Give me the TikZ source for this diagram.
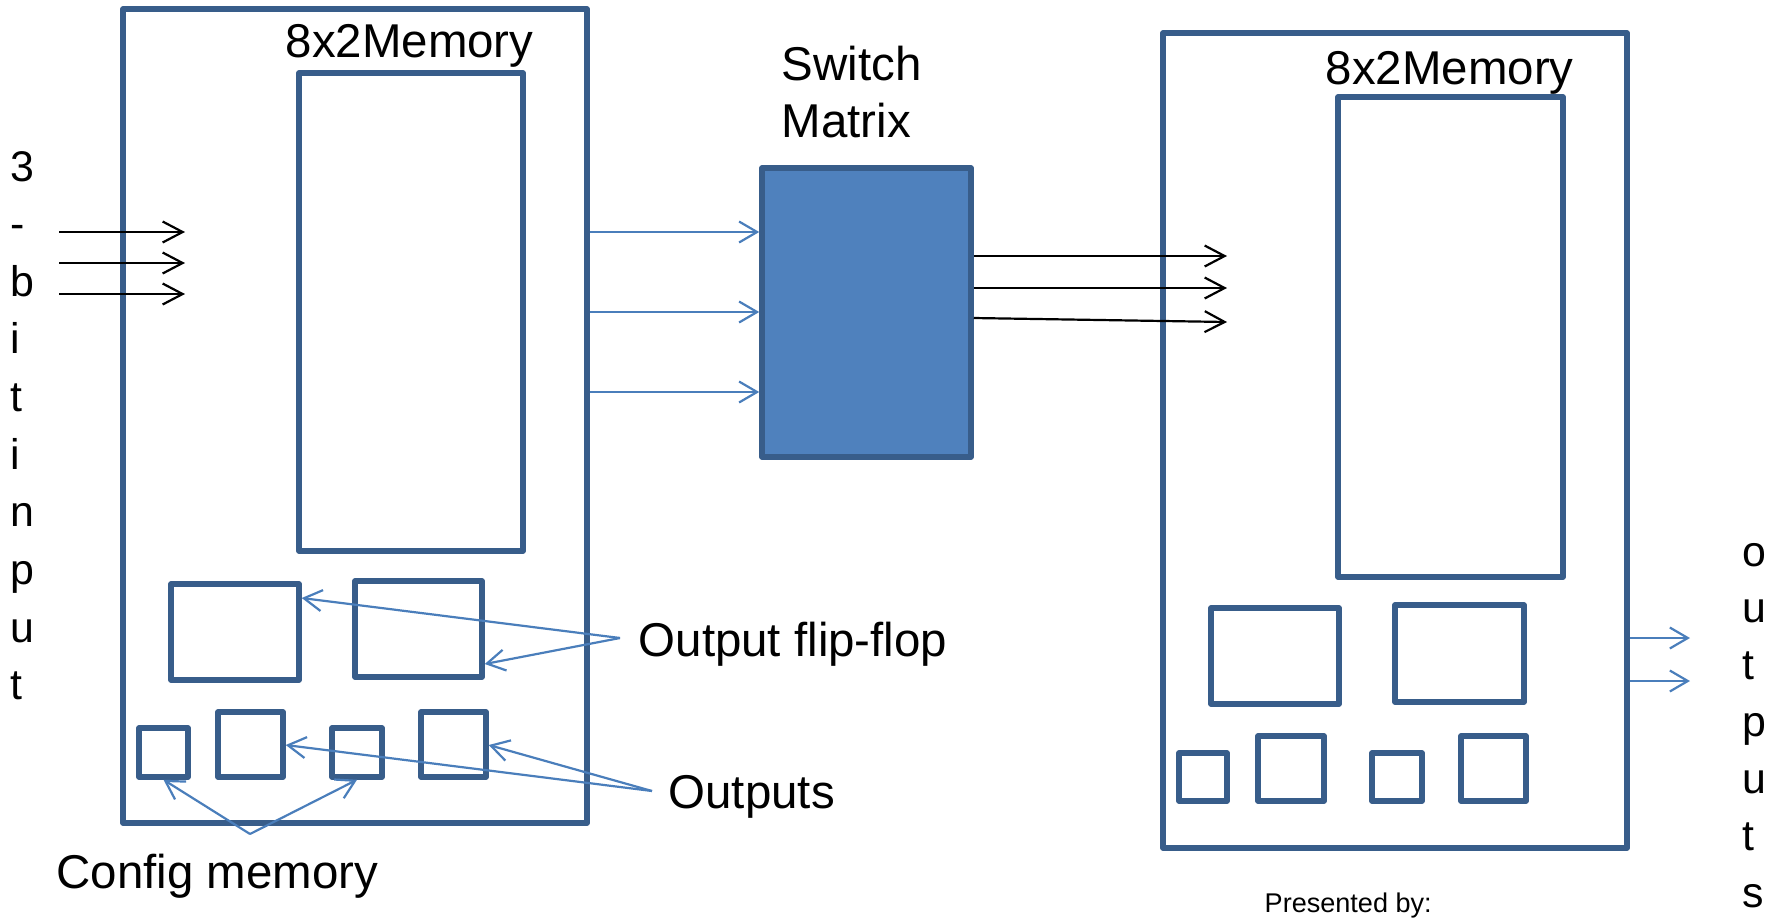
\documentclass[tikz,border=0pt]{standalone}
\usepackage{fontspec}
\setmainfont{Liberation Sans}
\usetikzlibrary{arrows.meta,fit}
\definecolor{boxline}{HTML}{385D8A}
\definecolor{boxfill}{HTML}{4F81BD}
\definecolor{wireblue}{HTML}{4A7EBB}
\tikzset{
  blk/.style={draw=boxline, line width=0.55mm, inner sep=0pt, rectangle, line join=round},
  bluewire/.style={draw=wireblue, line width=0.22mm,
    -{Straight Barb[length=1.8mm,width=2.1mm,line width=0.22mm]}},
  blackwire/.style={draw=black, line width=0.22mm,
    -{Straight Barb[length=2mm,width=2.1mm,line width=0.22mm]}},
  lbl/.style={anchor=base west, inner sep=0pt, font=\fontsize{13.5}{16.3}\selectfont},
  smalllbl/.style={anchor=base west, inner sep=0pt, font=\fontsize{7.7}{9}\selectfont},
  vlbl/.style={anchor=base west, inner sep=0pt, font=\fontsize{12.2}{16.4}\selectfont},
}
\begin{document}
\begin{tikzpicture}[x=0.1mm, y=-0.1mm]
\useasboundingbox (0,0) rectangle (1784,919);

% ---- left logic block ----
\node[blk, fit={(123,9) (587,823)}] (lbox) {};
\node[blk, fit={(299,73) (523,551)}] (lmem) {};
\node[blk, fit={(171,584) (299,680)}] (lff1) {};
\node[blk, fit={(355,581) (482,677)}] (lff2) {};
\node[blk, fit={(139,728) (188,777)}] (lc1) {};
\node[blk, fit={(218,712) (283,777)}] (lo2) {};
\node[blk, fit={(332,728) (382,777)}] (lc3) {};
\node[blk, fit={(421,712) (486,777)}] (lo4) {};
\node[lbl] (lmemlbl) at (285,57) {8x2Memory};

% ---- switch matrix ----
\node[blk, fill=boxfill, fit={(762,168) (971,457)}] (sw) {};
\node[lbl] (swlbl) at (781,80) {\vtop{\hbox{Switch}\hbox{Matrix}}};

% ---- right logic block ----
\node[blk, fit={(1163,33) (1627,848)}] (rbox) {};
\node[blk, fit={(1338,97) (1563,577)}] (rmem) {};
\node[blk, fit={(1211,608) (1339,704)}] (rff1) {};
\node[blk, fit={(1395,605) (1524,702)}] (rff2) {};
\node[blk, fit={(1179,753) (1227,801)}] (rc1) {};
\node[blk, fit={(1258,736) (1324,801)}] (ro2) {};
\node[blk, fit={(1372,753) (1422,801)}] (rc3) {};
\node[blk, fit={(1461,736) (1526,801)}] (ro4) {};
\node[lbl] (rmemlbl) at (1325,84) {8x2Memory};

% ---- inputs ----
\node[vlbl] (inlbl) at (10,181) {\vtop{\hbox{3}\hbox{-}\hbox{b}\hbox{i}\hbox{t}\hbox{i}\hbox{n}\hbox{p}\hbox{u}\hbox{t}}};
\coordinate (in1) at (59,232);  \coordinate (in1e) at (185,232);
\coordinate (in2) at (59,263);  \coordinate (in2e) at (185,263);
\coordinate (in3) at (59,294);  \coordinate (in3e) at (185,294);
\draw[blackwire] (in1) -- (in1e);
\draw[blackwire] (in2) -- (in2e);
\draw[blackwire] (in3) -- (in3e);

% ---- left block to switch matrix ----
\draw[bluewire] (lbox.east |- 0,232) -- (sw.west |- 0,232);
\draw[bluewire] (lbox.east |- 0,312) -- (sw.west |- 0,312);
\draw[bluewire] (lbox.east |- 0,392) -- (sw.west |- 0,392);

% ---- switch matrix to right block ----
\coordinate (sw1e) at (1227,256);
\coordinate (sw2e) at (1227,288);
\coordinate (sw3e) at (1227,322);
\draw[blackwire] (sw.east |- 0,256) -- (sw1e);
\draw[blackwire] (sw.east |- 0,288) -- (sw2e);
\draw[blackwire] (sw.east |- 0,318) -- (sw3e);

% ---- outputs of the right block ----
\coordinate (out1e) at (1690,638);
\coordinate (out2e) at (1690,681);
\draw[bluewire] (rbox.east |- 0,638) -- (out1e);
\draw[bluewire] (rbox.east |- 0,681) -- (out2e);
\node[vlbl] (outlbl) at (1742,566) {\vtop{\baselineskip=16.2pt\hbox{o}\hbox{u}\hbox{t}\hbox{p}\hbox{u}\hbox{t}\hbox{s}}};

% ---- callouts ----
\node[lbl] (fflbl) at (638,656) {Output flip-flop};
\coordinate (ffsrc) at (620,638);
\draw[bluewire] (ffsrc) -- (lff1.east |- 0,598);
\draw[bluewire] (ffsrc) -- (lff2.east |- 0,664);

\node[lbl] (outslbl) at (668,808) {Outputs};
\coordinate (outsrc) at (652,791);
\draw[bluewire] (outsrc) -- (lo2.east |- 0,745);
\draw[bluewire] (outsrc) -- (lo4.east |- 0,745);

\node[lbl] (cfglbl) at (56,888) {Config memory};
\coordinate (cfgsrc) at (250,834);
\draw[bluewire] (cfgsrc) -- (lc1.south);
\draw[bluewire] (cfgsrc) -- (lc3.south);

\node[smalllbl] (pres) at (1264,912) {Presented by:};
\end{tikzpicture}
\end{document}
